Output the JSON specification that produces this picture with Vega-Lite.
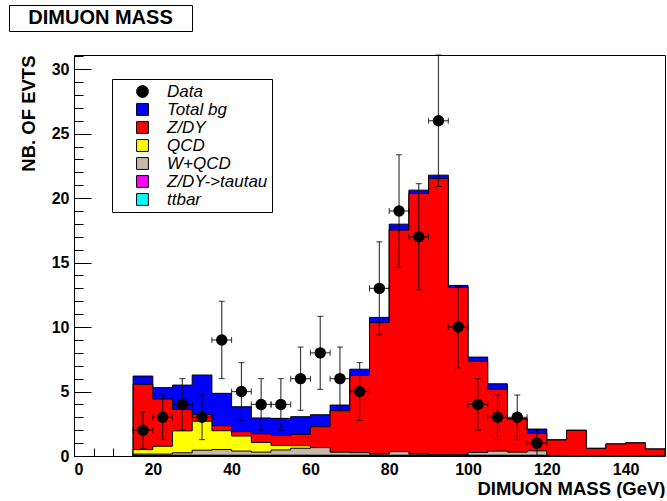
{
  "$schema": "https://vega.github.io/schema/vega-lite/v6.json",
  "autosize": {"type": "pad"},
  "padding": {"left": 8, "top": 4, "right": 0, "bottom": 0},
  "background": "white",
  "columns": 1,
  "spacing": 21,
  "config": {
    "font": "Liberation Sans",
    "view": {"stroke": "black", "strokeWidth": 1}
  },
  "datasets": {
    "hist": [
      {"s":"Total bg","x":15,"v":6.2},{"s":"Total bg","x":20,"v":5.3},{"s":"Total bg","x":25,"v":5.5},{"s":"Total bg","x":30,"v":6.28},{"s":"Total bg","x":35,"v":4.86},{"s":"Total bg","x":40,"v":3.82},{"s":"Total bg","x":45,"v":2.95},{"s":"Total bg","x":50,"v":2.92},{"s":"Total bg","x":55,"v":3.05},{"s":"Total bg","x":60,"v":3.2},{"s":"Total bg","x":65,"v":3.95},{"s":"Total bg","x":70,"v":6.73},{"s":"Total bg","x":75,"v":10.75},{"s":"Total bg","x":80,"v":17.98},{"s":"Total bg","x":85,"v":20.62},{"s":"Total bg","x":90,"v":21.78},{"s":"Total bg","x":95,"v":13.23},{"s":"Total bg","x":100,"v":7.67},{"s":"Total bg","x":105,"v":5.6},{"s":"Total bg","x":110,"v":2.9},{"s":"Total bg","x":115,"v":2.09},{"s":"Total bg","x":120,"v":1.26},{"s":"Total bg","x":125,"v":2.0},{"s":"Total bg","x":130,"v":0.6},{"s":"Total bg","x":135,"v":0.94},{"s":"Total bg","x":140,"v":1.02},{"s":"Total bg","x":145,"v":0.55},{"s":"Total bg","x":150,"v":0.55},
      {"s":"Z/DY","x":15,"v":5.56},{"s":"Z/DY","x":20,"v":4.42},{"s":"Z/DY","x":25,"v":3.62},{"s":"Z/DY","x":30,"v":3.23},{"s":"Z/DY","x":35,"v":2.35},{"s":"Z/DY","x":40,"v":1.89},{"s":"Z/DY","x":45,"v":1.72},{"s":"Z/DY","x":50,"v":1.58},{"s":"Z/DY","x":55,"v":1.68},{"s":"Z/DY","x":60,"v":2.27},{"s":"Z/DY","x":65,"v":3.51},{"s":"Z/DY","x":70,"v":6.24},{"s":"Z/DY","x":75,"v":10.34},{"s":"Z/DY","x":80,"v":17.52},{"s":"Z/DY","x":85,"v":20.36},{"s":"Z/DY","x":90,"v":21.52},{"s":"Z/DY","x":95,"v":13.07},{"s":"Z/DY","x":100,"v":7.36},{"s":"Z/DY","x":105,"v":5.18},{"s":"Z/DY","x":110,"v":2.87},{"s":"Z/DY","x":115,"v":1.76},{"s":"Z/DY","x":120,"v":1.24},{"s":"Z/DY","x":125,"v":1.99},{"s":"Z/DY","x":130,"v":0.59},{"s":"Z/DY","x":135,"v":0.93},{"s":"Z/DY","x":140,"v":1.01},{"s":"Z/DY","x":145,"v":0.54},{"s":"Z/DY","x":150,"v":0.54},
      {"s":"QCD","x":15,"v":0.5},{"s":"QCD","x":20,"v":0.76},{"s":"QCD","x":25,"v":1.95},{"s":"QCD","x":30,"v":2.7},{"s":"QCD","x":35,"v":1.96},{"s":"QCD","x":40,"v":1.55},{"s":"QCD","x":45,"v":1.05},{"s":"QCD","x":50,"v":0.82},{"s":"QCD","x":55,"v":0.8},{"s":"QCD","x":60,"v":0.1},{"s":"QCD","x":65,"v":0.26},{"s":"QCD","x":70,"v":0.05},{"s":"QCD","x":75,"v":0.05},{"s":"QCD","x":80,"v":0.04},{"s":"QCD","x":85,"v":0.03},{"s":"QCD","x":90,"v":0.03},{"s":"QCD","x":95,"v":0.03},{"s":"QCD","x":100,"v":0.03},{"s":"QCD","x":105,"v":0.03},{"s":"QCD","x":110,"v":0.02},{"s":"QCD","x":115,"v":0.02},{"s":"QCD","x":120,"v":0},{"s":"QCD","x":125,"v":0},{"s":"QCD","x":130,"v":0},{"s":"QCD","x":135,"v":0},{"s":"QCD","x":140,"v":0},{"s":"QCD","x":145,"v":0},{"s":"QCD","x":150,"v":0},
      {"s":"W+QCD","x":15,"v":0.15},{"s":"W+QCD","x":20,"v":0.15},{"s":"W+QCD","x":25,"v":0.25},{"s":"W+QCD","x":30,"v":0.45},{"s":"W+QCD","x":35,"v":0.5},{"s":"W+QCD","x":40,"v":0.38},{"s":"W+QCD","x":45,"v":0.3},{"s":"W+QCD","x":50,"v":0.47},{"s":"W+QCD","x":55,"v":0.6},{"s":"W+QCD","x":60,"v":0.65},{"s":"W+QCD","x":65,"v":0.3},{"s":"W+QCD","x":70,"v":0.26},{"s":"W+QCD","x":75,"v":0.15},{"s":"W+QCD","x":80,"v":0.34},{"s":"W+QCD","x":85,"v":0.15},{"s":"W+QCD","x":90,"v":0.1},{"s":"W+QCD","x":95,"v":0.1},{"s":"W+QCD","x":100,"v":0.27},{"s":"W+QCD","x":105,"v":0.38},{"s":"W+QCD","x":110,"v":0.3},{"s":"W+QCD","x":115,"v":0.4},{"s":"W+QCD","x":120,"v":0.05},{"s":"W+QCD","x":125,"v":0},{"s":"W+QCD","x":130,"v":0},{"s":"W+QCD","x":135,"v":0},{"s":"W+QCD","x":140,"v":0},{"s":"W+QCD","x":145,"v":0},{"s":"W+QCD","x":150,"v":0},
      {"s":"Z/DY->tautau","x":15,"v":0.06},{"s":"Z/DY->tautau","x":20,"v":0.06},{"s":"Z/DY->tautau","x":25,"v":0.06},{"s":"Z/DY->tautau","x":30,"v":0.06},{"s":"Z/DY->tautau","x":35,"v":0.06},{"s":"Z/DY->tautau","x":40,"v":0.06},{"s":"Z/DY->tautau","x":45,"v":0.06},{"s":"Z/DY->tautau","x":50,"v":0.06},{"s":"Z/DY->tautau","x":55,"v":0.06},{"s":"Z/DY->tautau","x":60,"v":0.06},{"s":"Z/DY->tautau","x":65,"v":0.06},{"s":"Z/DY->tautau","x":70,"v":0.06},{"s":"Z/DY->tautau","x":75,"v":0.06},{"s":"Z/DY->tautau","x":80,"v":0.06},{"s":"Z/DY->tautau","x":85,"v":0.06},{"s":"Z/DY->tautau","x":90,"v":0.06},{"s":"Z/DY->tautau","x":95,"v":0.06},{"s":"Z/DY->tautau","x":100,"v":0.06},{"s":"Z/DY->tautau","x":105,"v":0.06},{"s":"Z/DY->tautau","x":110,"v":0.06},{"s":"Z/DY->tautau","x":115,"v":0.06},{"s":"Z/DY->tautau","x":120,"v":0},{"s":"Z/DY->tautau","x":125,"v":0},{"s":"Z/DY->tautau","x":130,"v":0},{"s":"Z/DY->tautau","x":135,"v":0},{"s":"Z/DY->tautau","x":140,"v":0},{"s":"Z/DY->tautau","x":145,"v":0},{"s":"Z/DY->tautau","x":150,"v":0},
      {"s":"ttbar","x":15,"v":0.04},{"s":"ttbar","x":20,"v":0.04},{"s":"ttbar","x":25,"v":0.04},{"s":"ttbar","x":30,"v":0.04},{"s":"ttbar","x":35,"v":0.04},{"s":"ttbar","x":40,"v":0.04},{"s":"ttbar","x":45,"v":0.04},{"s":"ttbar","x":50,"v":0.04},{"s":"ttbar","x":55,"v":0.04},{"s":"ttbar","x":60,"v":0.04},{"s":"ttbar","x":65,"v":0.04},{"s":"ttbar","x":70,"v":0.04},{"s":"ttbar","x":75,"v":0.04},{"s":"ttbar","x":80,"v":0.04},{"s":"ttbar","x":85,"v":0.04},{"s":"ttbar","x":90,"v":0.04},{"s":"ttbar","x":95,"v":0.04},{"s":"ttbar","x":100,"v":0.04},{"s":"ttbar","x":105,"v":0.04},{"s":"ttbar","x":110,"v":0.04},{"s":"ttbar","x":115,"v":0.04},{"s":"ttbar","x":120,"v":0.03},{"s":"ttbar","x":125,"v":0.03},{"s":"ttbar","x":130,"v":0.02},{"s":"ttbar","x":135,"v":0.02},{"s":"ttbar","x":140,"v":0.02},{"s":"ttbar","x":145,"v":0.02},{"s":"ttbar","x":150,"v":0.02}
    ],
    "pts": [
      {"s":"Data","c":17.5,"lo":15,"hi":20,"n":2,"el":0.59,"eh":3.41},
      {"s":"Data","c":22.5,"lo":20,"hi":25,"n":3,"el":1.27,"eh":4.73},
      {"s":"Data","c":27.5,"lo":25,"hi":30,"n":4,"el":2,"eh":6},
      {"s":"Data","c":32.5,"lo":30,"hi":35,"n":3,"el":1.27,"eh":4.73},
      {"s":"Data","c":37.5,"lo":35,"hi":40,"n":9,"el":6,"eh":12},
      {"s":"Data","c":42.5,"lo":40,"hi":45,"n":5,"el":2.76,"eh":7.24},
      {"s":"Data","c":47.5,"lo":45,"hi":50,"n":4,"el":2,"eh":6},
      {"s":"Data","c":52.5,"lo":50,"hi":55,"n":4,"el":2,"eh":6},
      {"s":"Data","c":57.5,"lo":55,"hi":60,"n":6,"el":3.55,"eh":8.45},
      {"s":"Data","c":62.5,"lo":60,"hi":65,"n":8,"el":5.17,"eh":10.83},
      {"s":"Data","c":67.5,"lo":65,"hi":70,"n":6,"el":3.55,"eh":8.45},
      {"s":"Data","c":72.5,"lo":70,"hi":75,"n":5,"el":2.76,"eh":7.24},
      {"s":"Data","c":77.5,"lo":75,"hi":80,"n":13,"el":9.39,"eh":16.61},
      {"s":"Data","c":82.5,"lo":80,"hi":85,"n":19,"el":14.64,"eh":23.36},
      {"s":"Data","c":87.5,"lo":85,"hi":90,"n":17,"el":12.88,"eh":21.12},
      {"s":"Data","c":92.5,"lo":90,"hi":95,"n":26,"el":20.9,"eh":31.1},
      {"s":"Data","c":97.5,"lo":95,"hi":100,"n":10,"el":6.84,"eh":13.16},
      {"s":"Data","c":102.5,"lo":100,"hi":105,"n":4,"el":2,"eh":6},
      {"s":"Data","c":107.5,"lo":105,"hi":110,"n":3,"el":1.27,"eh":4.73},
      {"s":"Data","c":112.5,"lo":110,"hi":115,"n":3,"el":1.27,"eh":4.73},
      {"s":"Data","c":117.5,"lo":115,"hi":120,"n":1,"el":0,"eh":2}
    ],
    "ttl": [{"t": "DIMUON MASS"}],
    "none": []
  },
  "concat": [
    {
      "width": 183,
      "height": 26,
      "view": {"stroke": "black", "strokeWidth": 1, "fill": "white"},
      "data": {"name": "ttl"},
      "mark": {"type": "text", "font": "Liberation Sans", "fontWeight": "bold", "fontSize": 20, "color": "black"},
      "encoding": {"text": {"field": "t", "type": "nominal"}}
    },
    {
      "spacing": 8,
      "hconcat": [
        {
          "width": 1,
          "height": 1,
          "view": {"stroke": null, "fill": null},
          "data": {"name": "none"},
          "mark": "point",
          "encoding": {}
        },
        {
          "width": 591,
          "height": 401,
          "resolve": {"axis": {"x": "independent", "y": "independent"}},
          "layer": [
            {
              "data": {"name": "hist"},
              "transform": [{"filter": "datum.s === 'Total bg'"}],
              "mark": {"type": "area", "interpolate": "step-after", "stroke": "black", "strokeWidth": 1},
              "encoding": {
                "x": {"field": "x", "type": "quantitative", "scale": {"domain": [0, 150], "nice": false, "zero": false},
                  "axis": {"orient": "bottom", "values": [0,20,40,60,80,100,120,140], "ticks": false, "domain": false, "grid": false,
                    "labelFont": "Liberation Sans", "labelFontWeight": "bold", "labelFontSize": 16, "labelColor": "black", "labelPadding": 5,
                    "title": "DIMUON MASS (GeV)", "titleAnchor": "end", "titleFont": "Liberation Sans", "titleFontWeight": "bold", "titleFontSize": 18.5, "titleColor": "black", "titlePadding": 2}},
                "y": {"field": "v", "type": "quantitative", "stack": null, "scale": {"domain": [0, 31.1], "nice": false},
                  "axis": {"orient": "left", "values": [0,5,10,15,20,25,30], "ticks": false, "domain": false, "grid": false,
                    "labelFont": "Liberation Sans", "labelFontWeight": "bold", "labelFontSize": 16, "labelColor": "black", "labelPadding": 5,
                    "title": "NB. OF EVTS", "titleAnchor": "end", "titleFont": "Liberation Sans", "titleFontWeight": "bold", "titleFontSize": 18.5, "titleColor": "black", "titlePadding": 13}},
                "color": {"field": "s", "type": "nominal",
                  "scale": {"domain": ["Data", "Total bg", "Z/DY", "QCD", "W+QCD", "Z/DY->tautau", "ttbar"],
                            "range": ["#000000", "#0000ff", "#ff0000", "#ffff00", "#c4b9ad", "#ff00ff", "#00ffff"]},
                  "legend": {"orient": "none", "legendX": 103, "legendY": 74, "title": null,
                    "strokeColor": "black", "fillColor": "white", "padding": 4,
                    "labelFont": "Liberation Sans", "labelFontStyle": "italic", "labelFontSize": 17, "labelColor": "black",
                    "symbolSize": 140, "symbolStrokeColor": "black", "symbolStrokeWidth": 1, "symbolOpacity": 1,
                    "rowPadding": 0, "labelOffset": 16, "symbolOffset": 18,
                    "encode": {
                      "symbols": {"update": {"shape": {"signal": "datum.value === 'Data' ? 'circle' : 'square'"}, "stroke": {"value": "black"}, "strokeWidth": {"value": 1}}}
                    }}}
              }
            },
            {
              "data": {"name": "hist"},
              "transform": [{"filter": "datum.s === 'Z/DY'"}],
              "mark": {"type": "area", "interpolate": "step-after", "stroke": "black", "strokeWidth": 1},
              "encoding": {
                "x": {"field": "x", "type": "quantitative",
                  "axis": {"orient": "bottom", "values": [0,20,40,60,80,100,120,140], "labels": false, "domain": false, "grid": false, "title": null, "tickSize": -13, "tickColor": "black", "tickWidth": 1}},
                "y": {"field": "v", "type": "quantitative", "stack": null,
                  "axis": {"orient": "left", "values": [0,5,10,15,20,25,30], "labels": false, "domain": false, "grid": false, "title": null, "tickSize": -17, "tickColor": "black", "tickWidth": 1}},
                "color": {"field": "s", "type": "nominal"}
              }
            },
            {
              "data": {"name": "hist"},
              "transform": [{"filter": "datum.s === 'QCD'"}],
              "mark": {"type": "area", "interpolate": "step-after", "stroke": "black", "strokeWidth": 1},
              "encoding": {
                "x": {"field": "x", "type": "quantitative",
                  "axis": {"orient": "bottom", "values": [0,5,10,15,20,25,30,35,40,45,50,55,60,65,70,75,80,85,90,95,100,105,110,115,120,125,130,135,140,145], "labels": false, "domain": false, "grid": false, "title": null, "tickSize": -8, "tickColor": "black", "tickWidth": 1}},
                "y": {"field": "v", "type": "quantitative", "stack": null,
                  "axis": {"orient": "left", "values": [0,1,2,3,4,5,6,7,8,9,10,11,12,13,14,15,16,17,18,19,20,21,22,23,24,25,26,27,28,29,30,31], "labels": false, "domain": false, "grid": false, "title": null, "tickSize": -9, "tickColor": "black", "tickWidth": 1}},
                "color": {"field": "s", "type": "nominal"}
              }
            },
            {
              "data": {"name": "hist"},
              "transform": [{"filter": "datum.s === 'W+QCD'"}],
              "mark": {"type": "area", "interpolate": "step-after", "stroke": "black", "strokeWidth": 1},
              "encoding": {
                "x": {"field": "x", "type": "quantitative", "axis": null},
                "y": {"field": "v", "type": "quantitative", "stack": null, "axis": null},
                "color": {"field": "s", "type": "nominal"}
              }
            },
            {
              "data": {"name": "hist"},
              "transform": [{"filter": "datum.s === 'Z/DY->tautau'"}],
              "mark": {"type": "area", "interpolate": "step-after", "stroke": "black", "strokeWidth": 1},
              "encoding": {
                "x": {"field": "x", "type": "quantitative", "axis": null},
                "y": {"field": "v", "type": "quantitative", "stack": null, "axis": null},
                "color": {"field": "s", "type": "nominal"}
              }
            },
            {
              "data": {"name": "hist"},
              "transform": [{"filter": "datum.s === 'ttbar'"}],
              "mark": {"type": "area", "interpolate": "step-after", "stroke": "black", "strokeWidth": 1},
              "encoding": {
                "x": {"field": "x", "type": "quantitative", "axis": null},
                "y": {"field": "v", "type": "quantitative", "stack": null, "axis": null},
                "color": {"field": "s", "type": "nominal"}
              }
            },
            {
              "data": {"name": "pts"},
              "mark": {"type": "rule", "color": "black", "strokeWidth": 1.2, "opacity": 0.75},
              "encoding": {
                "x": {"field": "c", "type": "quantitative", "axis": null},
                "y": {"field": "el", "type": "quantitative", "axis": null},
                "y2": {"field": "eh"}
              }
            },
            {
              "data": {"name": "pts"},
              "mark": {"type": "rule", "color": "black", "strokeWidth": 1.2, "opacity": 0.75},
              "encoding": {
                "x": {"field": "lo", "type": "quantitative", "axis": null},
                "x2": {"field": "hi"},
                "y": {"field": "n", "type": "quantitative", "axis": null}
              }
            },
            {
              "data": {"name": "pts"},
              "mark": {"type": "tick", "orient": "horizontal", "color": "black", "size": 6, "thickness": 1, "opacity": 0.8},
              "encoding": {
                "x": {"field": "c", "type": "quantitative", "axis": null},
                "y": {"field": "eh", "type": "quantitative", "axis": null}
              }
            },
            {
              "data": {"name": "pts"},
              "mark": {"type": "tick", "orient": "horizontal", "color": "black", "size": 6, "thickness": 1, "opacity": 0.8},
              "encoding": {
                "x": {"field": "c", "type": "quantitative", "axis": null},
                "y": {"field": "el", "type": "quantitative", "axis": null}
              }
            },
            {
              "data": {"name": "pts"},
              "mark": {"type": "tick", "orient": "vertical", "color": "black", "size": 6, "thickness": 1, "opacity": 0.8},
              "encoding": {
                "x": {"field": "lo", "type": "quantitative", "axis": null},
                "y": {"field": "n", "type": "quantitative", "axis": null}
              }
            },
            {
              "data": {"name": "pts"},
              "mark": {"type": "tick", "orient": "vertical", "color": "black", "size": 6, "thickness": 1, "opacity": 0.8},
              "encoding": {
                "x": {"field": "hi", "type": "quantitative", "axis": null},
                "y": {"field": "n", "type": "quantitative", "axis": null}
              }
            },
            {
              "data": {"name": "pts"},
              "mark": {"type": "point", "filled": true, "size": 130, "opacity": 1},
              "encoding": {
                "x": {"field": "c", "type": "quantitative", "axis": null},
                "y": {"field": "n", "type": "quantitative", "axis": null},
                "color": {"field": "s", "type": "nominal"}
              }
            }
          ]
        }
      ]
    }
  ]
}
